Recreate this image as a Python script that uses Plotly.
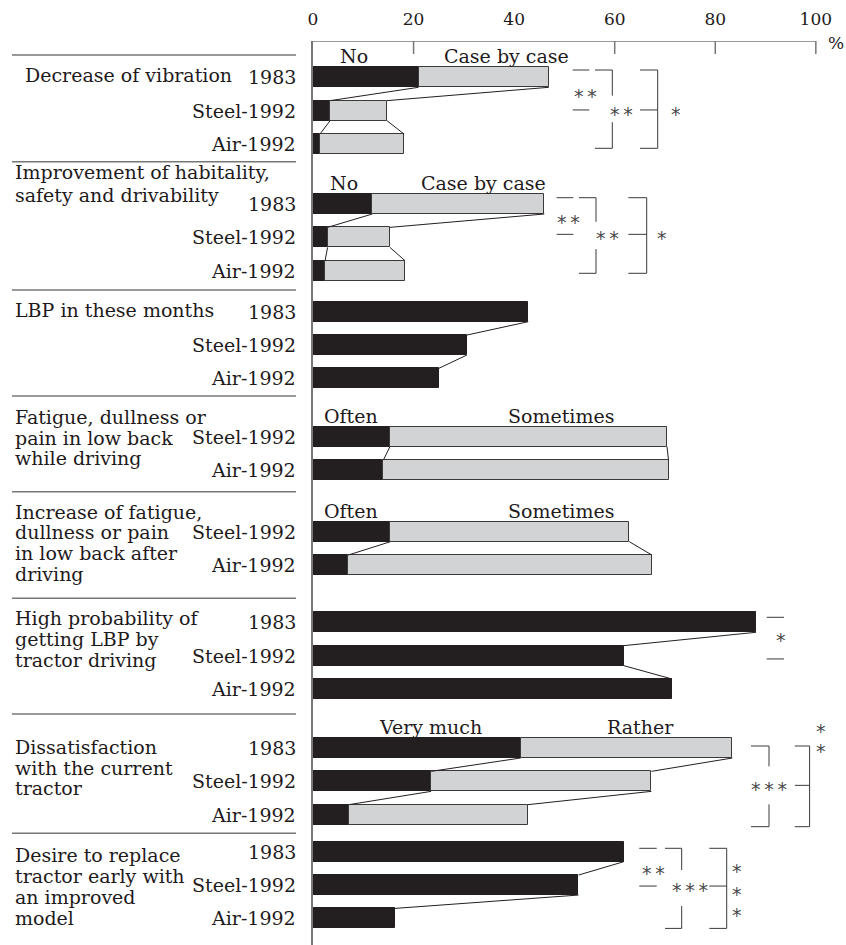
import plotly.graph_objects as go

# ---------------- data ----------------
group_titles = [
    ["Decrease of vibration"],
    ["Improvement of habitality,", "safety and drivability"],
    ["LBP in these months"],
    ["Fatigue, dullness or", "pain in low back", "while driving"],
    ["Increase of fatigue,", "dullness or pain", "in low back after", "driving"],
    ["High probability of", "getting LBP by", "tractor driving"],
    ["Dissatisfaction", "with the current", "tractor"],
    ["Desire to replace", "tractor early with", "an improved", "model"],
]
row_labels = [
    ["1983", "Steel-1992", "Air-1992"],
    ["1983", "Steel-1992", "Air-1992"],
    ["1983", "Steel-1992", "Air-1992"],
    ["Steel-1992", "Air-1992"],
    ["Steel-1992", "Air-1992"],
    ["1983", "Steel-1992", "Air-1992"],
    ["1983", "Steel-1992", "Air-1992"],
    ["1983", "Steel-1992", "Air-1992"],
]
segment_names = [
    ("No", "Case by case"),
    ("No", "Case by case"),
    None,
    ("Often", "Sometimes"),
    ("Often", "Sometimes"),
    None,
    ("Very much", "Rather"),
    None,
]
# first (black) segment, %
first_pct = [
    [21.0, 3.4, 1.4],
    [11.8, 2.9, 2.4],
    [42.8, 30.6, 25.0],
    [15.3, 14.0],
    [15.4, 7.0],
    [88.1, 61.8, 71.4],
    [41.3, 23.5, 7.1],
    [61.8, 52.8, 16.3],
]
# second (grey) segment, %
second_pct = [
    [25.9, 11.3, 16.7],
    [34.2, 12.4, 15.9],
    None,
    [55.1, 56.7],
    [47.5, 60.4],
    None,
    [42.1, 43.8, 35.6],
    None,
]
tick_values = [0, 20, 40, 60, 80, 100]

# ---------------- layout constants ----------------
W, H = 846, 945
ML, MT = 313, 41
X_MAX = 106.0
K = (W - ML) / X_MAX          # px per percent
BAR_H = 20
PITCH = 33.35
group_first = [77.3, 204.0, 311.7, 436.7, 531.7, 622.3, 748.0, 851.7]
title_dy = [-2.3, -32.3, -1.7, -20.0, -20.0, -4.0, -1.3, 3.3]
title_step = [21, 23.3, 21, 20.8, 20.6, 20.8, 20.8, 21.1]
title_x = [23, 13, 13, 13, 13, 13, 13, 13]
seg_label_x = {0: (353.5, 506), 1: (344, 483.5), 3: (351, 561), 4: (351, 561), 6: (430, 640)}
separators_y = [55, 161.7, 290, 396, 491.7, 598.3, 714, 833.3]

BLACK = "#231f20"
GREY = "#d1d3d4"
TXT = "#1e1a1b"
LINE = "#3a3a3a"
FONT = "DejaVu Serif"
THIN = "\u2009"


def xd(px):
    return (px - ML) / K


def xp(px):
    return (px - ML) / (W - ML)


def yp(py):
    return (H - py) / (H - MT)


rows = [[g + i * PITCH for i in range(len(r))] for g, r in zip(group_first, row_labels)]

fig = go.Figure()

# bars
ys_all, b_all, ys2, s2, base2 = [], [], [], [], []
for gi, ys in enumerate(rows):
    for ri, y in enumerate(ys):
        ys_all.append(y)
        b_all.append(first_pct[gi][ri])
        if second_pct[gi] is not None:
            ys2.append(y)
            s2.append(second_pct[gi][ri])
            base2.append(first_pct[gi][ri])

fig.add_trace(go.Bar(orientation="h", y=ys_all, x=b_all, base=0, width=BAR_H,
                     marker=dict(color=BLACK, line=dict(color=BLACK, width=1)),
                     hoverinfo="skip", showlegend=False))
fig.add_trace(go.Bar(orientation="h", y=ys2, x=s2, base=base2, width=BAR_H,
                     marker=dict(color=GREY, line=dict(color=LINE, width=1)),
                     hoverinfo="skip", showlegend=False))

# connecting lines between the ends of consecutive bars
lx, ly = [], []
for gi, ys in enumerate(rows):
    cums = []
    for ri in range(len(ys)):
        c = [first_pct[gi][ri]]
        if second_pct[gi] is not None:
            c.append(first_pct[gi][ri] + second_pct[gi][ri])
        cums.append(c)
    for ri in range(len(ys) - 1):
        for k in range(len(cums[ri])):
            lx += [cums[ri][k], cums[ri + 1][k], None]
            ly += [ys[ri] + BAR_H / 2, ys[ri + 1] - BAR_H / 2, None]
fig.add_trace(go.Scatter(x=lx, y=ly, mode="lines", line=dict(color=BLACK, width=1),
                         hoverinfo="skip", showlegend=False))

shapes = []
annotations = []


def hline(x0, x1, y, color=LINE, width=1):
    shapes.append(dict(type="line", xref="x", yref="y", x0=xd(x0), x1=xd(x1), y0=y, y1=y,
                       line=dict(color=color, width=width)))


def vline(x, y0, y1, color=LINE, width=1):
    shapes.append(dict(type="line", xref="x", yref="y", x0=xd(x), x1=xd(x), y0=y0, y1=y1,
                       line=dict(color=color, width=width)))


def star(x, y, n):
    annotations.append(dict(x=xd(x), y=y, xref="x", yref="y", text=THIN.join(["*"] * n),
                            showarrow=False, yshift=-4,
                            font=dict(family="DejaVu Sans", size=19, color="#4a4a4a"),
                            xanchor="center", yanchor="middle"))


# axis: top line, ticks, percent sign
shapes.append(dict(type="line", xref="x", yref="y", x0=0, x1=100, y0=MT, y1=MT,
                   line=dict(color="#777", width=1.5)))
for tv in [20, 60, 80, 100]:
    shapes.append(dict(type="line", xref="x", yref="y", x0=tv, x1=tv, y0=MT, y1=MT + 13,
                       line=dict(color="#777", width=1.5)))
shapes.append(dict(type="line", xref="x", yref="y", x0=40, x1=40, y0=MT - 2, y1=MT,
                   line=dict(color="#777", width=1)))
annotations.append(dict(x=xd(836), y=MT + 2, xref="x", yref="y", text="%", showarrow=False,
                        font=dict(family=FONT, size=17, color=TXT), xanchor="center", yanchor="middle"))

# group separators in the label column
for sy in separators_y:
    shapes.append(dict(type="line", xref="paper", yref="paper", x0=xp(12), x1=xp(296),
                       y0=yp(sy), y1=yp(sy), line=dict(color="#777", width=1.5)))

# group titles and row labels
for gi, lines in enumerate(group_titles):
    for li, t in enumerate(lines):
        annotations.append(dict(x=xp(title_x[gi]), y=yp(rows[gi][0] + title_dy[gi] + li * title_step[gi]),
                                xref="paper", yref="paper", text=t, showarrow=False,
                                font=dict(family=FONT, size=19, color=TXT),
                                xanchor="left", yanchor="middle"))
    for ri, lab in enumerate(row_labels[gi]):
        annotations.append(dict(x=xp(297.5), y=yp(rows[gi][ri]), xref="paper", yref="paper",
                                text=lab, showarrow=False,
                                font=dict(family=FONT, size=19, color=TXT),
                                xanchor="right", yanchor="middle"))

# segment names above the first bar of each group
for gi, names in enumerate(segment_names):
    if names is None:
        continue
    for nm, px in zip(names, seg_label_x[gi]):
        annotations.append(dict(x=xd(px), y=rows[gi][0] - 21, xref="x", yref="y", text=nm,
                                showarrow=False, font=dict(family=FONT, size=19, color=TXT),
                                xanchor="center", yanchor="middle"))

# significance marks
sig = [
    dict(g=0, top=-7.3, mid=-0.7, bot=4.3,
         pair=(572.7, 589.3, 585.0, 2),
         inner=(595.0, 612.3, 621.7, 2, -14.3, 12.3),
         outer=(640.0, 657.7, 676.0, [0])),
    dict(g=1, top=-6.3, mid=-3.0, bot=2.6,
         pair=(556.7, 573.3, 568.0, 2),
         inner=(579.0, 596.0, 607.5, 2, -12.6, 14.7),
         outer=(628.3, 646.7, 661.7, [0])),
    dict(g=6, top=-2.0, mid=4.0, bot=12.0,
         pair=None,
         inner=(751.0, 769.0, 769.0, 3, -19.0, 19.0),
         outer=(794.8, 809.6, 821.0, [-58.0, -38.0])),
    dict(g=7, top=-3.4, mid=1.0, bot=10.0,
         pair=(639.3, 656.7, 653.3, 2),
         inner=(665.0, 681.7, 690.3, 3, -16.0, 20.0),
         outer=(709.3, 726.7, 737.0, [-19.0, 3.5, 24.5])),
]
for s in sig:
    r = rows[s["g"]]
    yt = r[0] + s["top"]
    ym = r[1] + s["mid"]
    yb = r[2] + s["bot"]
    if s["pair"]:
        x0, x1, tx, n = s["pair"]
        hline(x0, x1, yt)
        hline(x0, x1, ym)
        star(tx, (yt + ym) / 2 + 2, n)
    x0, x1, tx, n, g0, g1 = s["inner"]
    hline(x0, x1, yt)
    vline(x1, yt, ym + g0)
    vline(x1, ym + g1, yb)
    hline(x0, x1, yb)
    star(tx, ym, n)
    x0, x1, tx, offs = s["outer"]
    hline(x0, x1, yt)
    hline(x0, x1, ym)
    hline(x0, x1, yb)
    vline(x1, yt, yb)
    for o in offs:
        star(tx, ym + o, 1)

# pairwise mark for the high-probability group
r6 = rows[5]
hline(766.7, 784.0, r6[0] - 5.0)
hline(766.7, 784.0, r6[1] + 3.3)
star(781.0, (r6[0] + r6[1]) / 2 - 3.3, 1)

fig.update_layout(
    width=W, height=H,
    margin=dict(l=ML, r=0, t=MT, b=0, pad=0),
    paper_bgcolor="white", plot_bgcolor="white",
    barmode="overlay", bargap=0,
    shapes=shapes, annotations=annotations,
    xaxis=dict(side="top", range=[0, X_MAX], tickvals=tick_values,
               ticktext=[str(v) for v in tick_values],
               ticks="outside", ticklen=8, tickcolor="rgba(0,0,0,0)",
               tickfont=dict(family=FONT, size=17, color=TXT),
               showgrid=False, zeroline=False, showline=False, fixedrange=True),
    yaxis=dict(range=[H, MT], showticklabels=False, ticks="", showgrid=False,
               zeroline=False, showline=True, linecolor="#777", linewidth=2,
               fixedrange=True),
)

fig.write_html("out.html")
